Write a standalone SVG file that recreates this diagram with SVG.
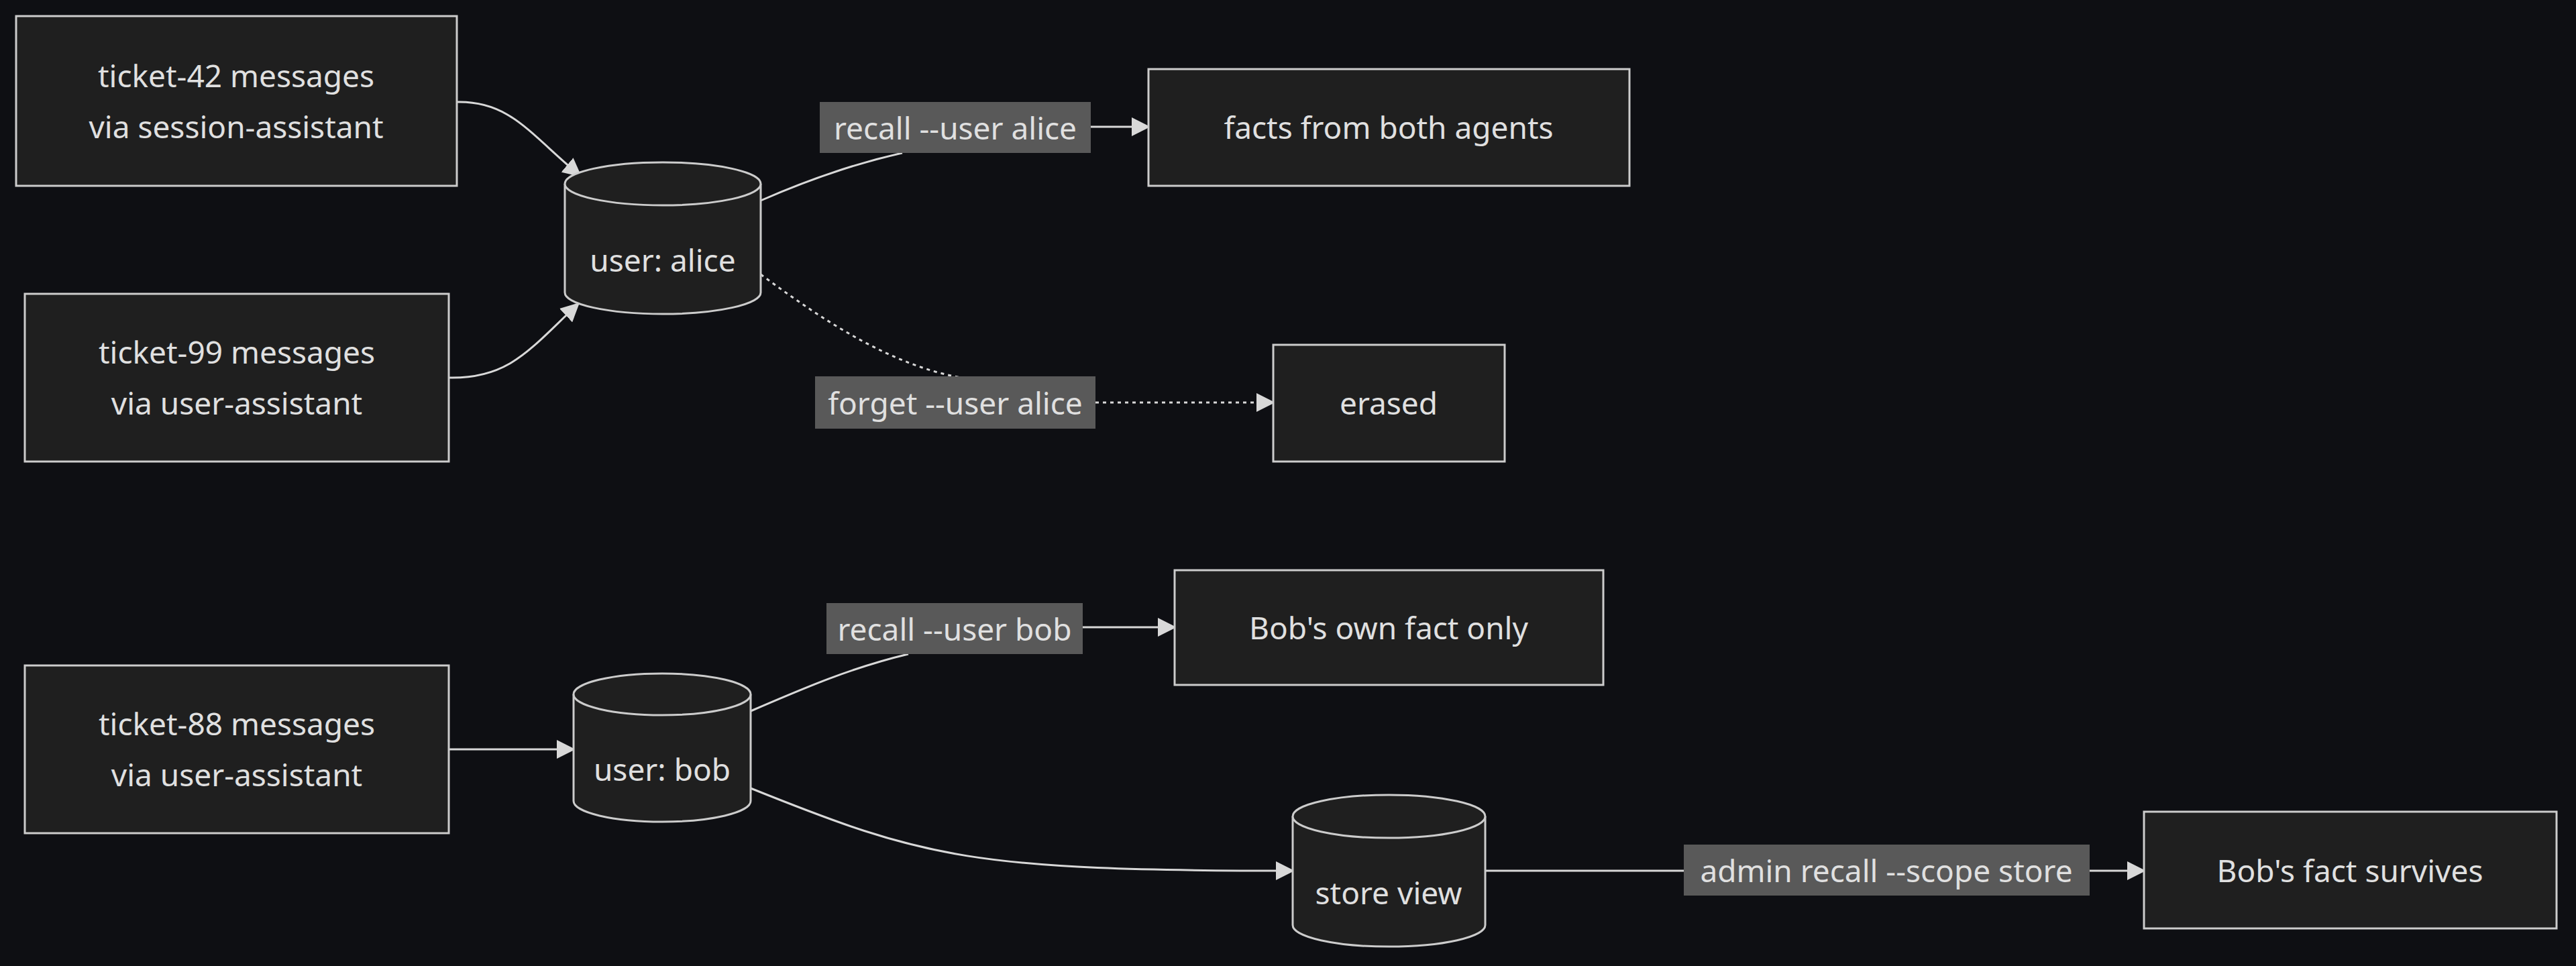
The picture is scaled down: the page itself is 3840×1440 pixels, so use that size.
<svg xmlns="http://www.w3.org/2000/svg" width="3840" height="1440" viewBox="0 0 3840 1440">
<defs>
<style>
text{font-family:"Noto Sans","DejaVu Sans",sans-serif;font-size:46px;fill:#e0e0e0;text-anchor:middle;dominant-baseline:central}
.n{fill:#1f1f1f;stroke:#cccccc;stroke-width:3}
.e{fill:none;stroke:#d8d8d8;stroke-width:3}
.d{stroke-dasharray:5 6}
.lb{fill:#595959}
</style>
<marker id="a" viewBox="0 0 10 10" refX="9" refY="5" markerWidth="10" markerHeight="10" markerUnits="userSpaceOnUse" orient="auto"><path d="M0,0L10,5L0,10z" fill="#d8d8d8"/></marker>
<marker id="A" viewBox="0 0 10 10" refX="9" refY="5" markerWidth="28" markerHeight="28" markerUnits="userSpaceOnUse" orient="auto"><path d="M0,0L10,5L0,10z" fill="#d8d8d8"/></marker>
</defs>
<rect width="3840" height="1440" fill="#0e0f13"/>
<g id="edges">
<path class="e" d="M681,152 C760,150 790,200 865,262" marker-end="url(#A)"/>
<path class="e" d="M669,563 C760,565 790,520 862,453" marker-end="url(#A)"/>
<path class="e" d="M1134,299 C1200,270 1270,245 1345,228"/>
<path class="e" d="M1626,189 L1712,189" marker-end="url(#A)"/>
<path class="e d" d="M1134,409 C1230,480 1330,545 1433,563"/>
<path class="e d" d="M1633,600 L1898,600" marker-end="url(#A)"/>
<path class="e" d="M669,1117 L855,1117" marker-end="url(#A)"/>
<path class="e" d="M1119,1060 C1200,1025 1270,995 1354,975"/>
<path class="e" d="M1614,935 L1751,935" marker-end="url(#A)"/>
<path class="e" d="M1119,1175 C1380,1280 1450,1298 1927,1298" marker-end="url(#A)"/>
<path class="e" d="M2214,1298 L3196,1298" marker-end="url(#A)"/>
<rect class="lb" x="1222" y="152" width="404" height="76"/><text x="1424" y="190">recall --user alice</text>
<rect class="lb" x="1215" y="561" width="418" height="78"/><text x="1424" y="600">forget --user alice</text>
<rect class="lb" x="1232" y="899" width="382" height="76"/><text x="1423" y="937">recall --user bob</text>
<rect class="lb" x="2510" y="1259" width="605" height="76"/><text x="2812" y="1297">admin recall --scope store</text>
</g>
<g id="t42"><rect class="n" x="24" y="24" width="657" height="253"/><text x="352" y="112">ticket-42 messages</text><text x="352" y="188">via session-assistant</text></g>
<g id="t99"><rect class="n" x="37" y="438" width="632" height="250"/><text x="353" y="524">ticket-99 messages</text><text x="353" y="600">via user-assistant</text></g>
<g id="t88"><rect class="n" x="37" y="992" width="632" height="250"/><text x="353" y="1078">ticket-88 messages</text><text x="353" y="1154">via user-assistant</text></g>
<g id="alice"><path class="n" d="M842,274 A146,32 0 0 1 1134,274 L1134,436 A146,32 0 0 1 842,436 Z"/><path class="n" d="M842,274 A146,32 0 0 0 1134,274"/><text x="988" y="387">user: alice</text></g>
<g id="bob"><path class="n" d="M855,1035 A132,31 0 0 1 1119,1035 L1119,1194 A132,31 0 0 1 855,1194 Z"/><path class="n" d="M855,1035 A132,31 0 0 0 1119,1035"/><text x="987" y="1146">user: bob</text></g>
<g id="store"><path class="n" d="M1927,1217 A143,32 0 0 1 2214,1217 L2214,1379 A143,32 0 0 1 1927,1379 Z"/><path class="n" d="M1927,1217 A143,32 0 0 0 2214,1217"/><text x="2070" y="1330">store view</text></g>
<g id="facts"><rect class="n" x="1712" y="103" width="717" height="174"/><text x="2070" y="189">facts from both agents</text></g>
<g id="erased"><rect class="n" x="1898" y="514" width="345" height="174"/><text x="2070" y="600">erased</text></g>
<g id="bobown"><rect class="n" x="1751" y="850" width="639" height="171"/><text x="2070" y="935">Bob's own fact only</text></g>
<g id="survives"><rect class="n" x="3196" y="1210" width="615" height="174"/><text x="3503" y="1297">Bob's fact survives</text></g>
</svg>
